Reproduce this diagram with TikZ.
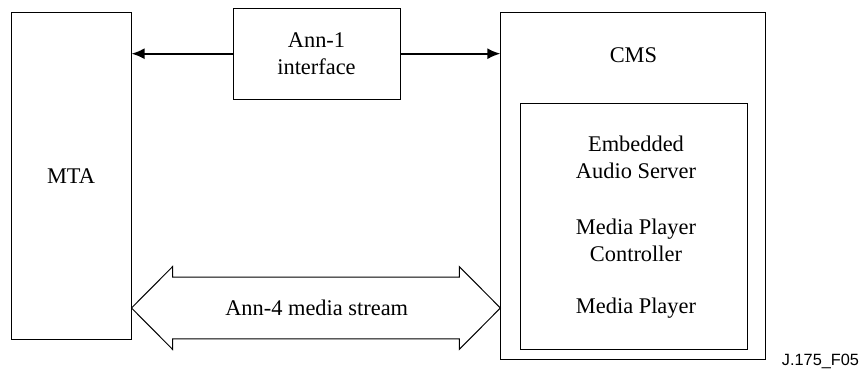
\documentclass[tikz,border=0pt]{standalone}
\usepackage{fontspec}
\setmainfont{Liberation Serif}
\newfontfamily\timesfont{Liberation Serif}
\newfontfamily\figfont{Liberation Sans}
\usepackage{tikz}
\usetikzlibrary{shapes,arrows,arrows.meta}
\tikzstyle{block} = [rectangle, draw, line width=1pt, inner sep=0pt, text centered]
\tikzstyle{txt} = [align=center, font=\timesfont\fontsize{22.4}{27.5}\selectfont]
\tikzstyle{line} = [draw, line width=2pt, -{Latex[length=13pt,width=11pt]}]

\begin{document}
\begin{tikzpicture}[x=1pt, y=-1pt]
\useasboundingbox (0,0) rectangle (859,371);
\node [block, minimum width=120pt, minimum height=326pt] (mta) at (71,176) {};
\node [txt] (mta-text) at (71,176) {MTA};
\node [block, txt, minimum width=167pt, minimum height=91pt] (ann1) at (316.5,53.7) {Ann-1\\interface};
\node [block, minimum width=265pt, minimum height=346.7pt] (cms) at (633.4,186) {};
\node [txt] (cms-text) at (633.4,55) {CMS};
\node [block, minimum width=227.3pt, minimum height=246.3pt] (eas) at (633.7,226.8) {};
\node [txt] (eas-text) at (636,157.5) {Embedded\\Audio Server};
\node [txt] (mpc-text) at (636,240.5) {Media Player\\Controller};
\node [txt] (mp-text) at (636,308) {Media Player};
\path [line] (ann1.west) -- (ann1.west -| mta.east);
\path [line] (ann1.east) -- (ann1.east -| cms.west);
\node [txt] (stream) at (316.7,308) {Ann-4 media stream};
\coordinate (l) at (mta.east |- stream);
\coordinate (r) at (cms.west |- stream);
\draw [line width=1pt, line join=miter] (l) -- ([shift={(41,-41.3)}]l) -- ([shift={(41,-30.8)}]l)
  -- ([shift={(-41,-30.8)}]r) -- ([shift={(-41,-41.3)}]r) -- (r)
  -- ([shift={(-41,41.3)}]r) -- ([shift={(-41,30.8)}]r)
  -- ([shift={(41,30.8)}]l) -- ([shift={(41,41.3)}]l) -- cycle;
\node [font=\figfont\fontsize{16.3}{19}\selectfont] (fig) at (820.5,361) {J.175\_F05};
\end{tikzpicture}
\end{document}
